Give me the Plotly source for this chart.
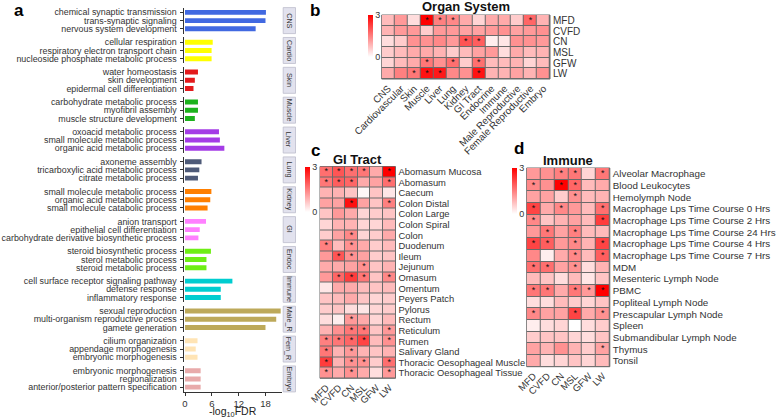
import plotly.graph_objects as go

W, H = 779, 418
def px(x): return x / W
def py(y): return 1 - y / H
def clamp(v): return max(0.0, min(1.0, v))

FONT = "Arial, Liberation Sans, sans-serif"

# ---------------- Panel a data ----------------
facets = ["CNS", "Cardio", "Skin", "Muscle", "Liver", "Lung", "Kidney", "GI",
          "Endoc", "Immune", "Male_R", "Fem_R", "Embryo"]
terms = [
    ["chemical synaptic transmission", "trans-synaptic signaling", "nervous system development"],
    ["cellular respiration", "respiratory electron transport chain", "nucleoside phosphate metabolic process"],
    ["water homeostasis", "skin development", "epidermal cell differentiation"],
    ["carbohydrate metabolic process", "myofibril assembly", "muscle structure development"],
    ["oxoacid metabolic process", "small molecule metabolic process", "organic acid metabolic process"],
    ["axoneme assembly", "tricarboxylic acid metabolic process", "citrate metabolic process"],
    ["small molecule metabolic process", "organic acid metabolic process", "small molecule catabolic process"],
    ["anion transport", "epithelial cell differentiation", "carbohydrate derivative biosynthetic process"],
    ["steroid biosynthetic process", "sterol metabolic process", "steroid metabolic process"],
    ["cell surface receptor signaling pathway", "defense response", "inflammatory response"],
    ["sexual reproduction", "multi-organism reproductive process", "gamete generation"],
    ["cilium organization", "appendage morphogenesis", "embryonic morphogenesis"],
    ["embryonic morphogenesis", "regionalization", "anterior/posterior pattern specification"],
]
neglog_fdr = [
    [18.1, 18.0, 15.8],
    [6.2, 5.95, 5.95],
    [2.9, 2.2, 1.9],
    [2.9, 2.9, 2.2],
    [7.6, 7.8, 8.8],
    [3.7, 3.2, 2.9],
    [5.9, 5.65, 5.05],
    [4.7, 3.3, 3.0],
    [5.8, 4.8, 4.8],
    [10.6, 8.0, 8.0],
    [21.4, 20.4, 18.0],
    [2.8, 2.4, 2.8],
    [3.5, 3.5, 3.5],
]
facet_colors = ["#4169E1", "#FFFF00", "#E31A1C", "#1CB21C", "#A43CE6", "#4E5A78",
                "#FF7F00", "#FF80FF", "#6EEE14", "#00CDD0", "#BDA95A", "#FFE4B5", "#E8AAAA"]
x_ticks_a = [0, 6, 12, 18]

# ---------------- Panel b data ----------------
traits = ["MFD", "CVFD", "CN", "MSL", "GFW", "LW"]
organs = ["CNS", "Cardiovascular", "Skin", "Muscle", "Liver", "Lung", "Kidney", "GI Tract",
          "Endocrine", "Immune", "Male Reproductive", "Female Reproductive", "Embryo"]
organ_z = [
    [0.8, 1.2, 0.4, 3.0, 1.5, 1.4, 1.0, 0.5, 1.0, 1.0, 0.6, 1.8, 0.9],
    [0.9, 1.2, 1.2, 0.6, 1.2, 1.2, 1.1, 1.1, 1.2, 1.3, 1.1, 1.2, 1.3],
    [0.4, 0.6, 1.3, 1.3, 1.4, 1.2, 2.0, 1.9, 0.2, 0.3, 1.3, 1.3, 1.2],
    [0.6, 0.8, 1.0, 1.0, 0.9, 0.6, 0.8, 1.1, 1.2, 0.4, 1.0, 0.8, 0.9],
    [0.5, 0.8, 1.0, 1.6, 1.3, 1.7, 0.6, 1.7, 0.8, 0.8, 0.9, 0.5, 0.8],
    [1.0, 1.5, 1.6, 2.8, 2.7, 1.4, 1.3, 2.8, 0.9, 0.9, 1.1, 0.9, 1.3],
]
organ_sig = [
    [0, 0, 0, 1, 1, 1, 0, 0, 0, 0, 0, 1, 0],
    [0, 0, 0, 0, 0, 0, 0, 0, 0, 0, 0, 0, 0],
    [0, 0, 0, 0, 0, 0, 1, 1, 0, 0, 0, 0, 0],
    [0, 0, 0, 0, 0, 0, 0, 0, 0, 0, 0, 0, 0],
    [0, 0, 0, 1, 0, 1, 0, 1, 0, 0, 0, 0, 0],
    [0, 0, 1, 1, 1, 0, 0, 1, 0, 0, 0, 0, 0],
]

# ---------------- Panel c data ----------------
gi_tissues = ["Abomasum Mucosa", "Abomasum", "Caecum", "Colon Distal", "Colon Large", "Colon Spiral",
              "Colon", "Duodenum", "Ileum", "Jejunum", "Omasum", "Omentum", "Peyers Patch", "Pylorus",
              "Rectum", "Reticulum", "Rumen", "Salivary Gland", "Thoracic Oesophageal Muscle",
              "Thoracic Oesophageal Tissue"]
gi_z = [
    [1.7, 2.0, 1.7, 1.6, 1.0, 3.0],
    [1.6, 1.9, 1.8, 1.0, 1.1, 1.7],
    [0.9, 0.9, 0.7, 0.1, 0.7, 0.3],
    [1.1, 1.1, 2.8, 1.1, 0.7, 1.5],
    [0.7, 1.2, 1.0, 0.5, 0.6, 0.7],
    [0.5, 0.9, 0.9, 0.5, 0.5, 0.8],
    [0.6, 1.1, 1.4, 0.5, 0.6, 1.0],
    [1.5, 0.8, 1.3, 1.0, 0.6, 0.8],
    [1.2, 2.0, 1.3, 1.1, 0.6, 0.7],
    [1.0, 1.0, 1.1, 1.3, 0.7, 0.9],
    [1.2, 1.8, 2.3, 1.6, 0.7, 1.4],
    [0.3, 1.0, 1.0, 0.8, 0.7, 0.8],
    [0.7, 0.8, 1.0, 0.7, 0.5, 0.6],
    [0.6, 0.7, 0.4, 0.3, 0.5, 0.6],
    [0.4, 0.2, 1.2, 1.0, 0.5, 0.8],
    [0.9, 1.3, 1.6, 1.6, 0.7, 1.2],
    [1.5, 1.6, 1.8, 2.2, 0.8, 1.3],
    [1.6, 0.9, 1.2, 0.9, 0.7, 0.9],
    [2.3, 0.9, 1.3, 1.3, 0.6, 1.7],
    [1.3, 1.0, 1.3, 1.0, 0.4, 1.2],
]
gi_sig = [
    [1, 1, 1, 1, 0, 1],
    [1, 1, 1, 0, 0, 1],
    [0, 0, 0, 0, 0, 0],
    [0, 0, 1, 0, 0, 1],
    [0, 0, 0, 0, 0, 0],
    [0, 0, 0, 0, 0, 0],
    [0, 0, 1, 0, 0, 0],
    [1, 0, 1, 0, 0, 0],
    [0, 1, 1, 0, 0, 0],
    [0, 0, 0, 1, 0, 0],
    [0, 1, 1, 1, 0, 1],
    [0, 0, 0, 0, 0, 0],
    [0, 0, 0, 0, 0, 0],
    [0, 0, 0, 0, 0, 0],
    [0, 0, 1, 0, 0, 0],
    [0, 0, 1, 1, 0, 1],
    [1, 1, 1, 1, 0, 1],
    [1, 0, 1, 0, 0, 0],
    [1, 0, 1, 1, 0, 1],
    [1, 0, 1, 0, 0, 1],
]

# ---------------- Panel d data ----------------
imm_tissues = ["Alveolar Macrophage", "Blood Leukocytes", "Hemolymph Node",
               "Macrophage Lps Time Course 0 Hrs", "Macrophage Lps Time Course 2 Hrs",
               "Macrophage Lps Time Course 24 Hrs", "Macrophage Lps Time Course 4 Hrs",
               "Macrophage Lps Time Course 7 Hrs", "MDM", "Mesenteric Lymph Node", "PBMC",
               "Popliteal Lymph Node", "Prescapular Lymph Node", "Spleen",
               "Submandibular Lymph Node", "Thymus", "Tonsil"]
imm_z = [
    [1.2, 1.3, 1.5, 1.6, 0.5, 1.6],
    [1.4, 1.3, 3.0, 1.8, 0.8, 1.0],
    [1.1, 1.1, 0.6, 1.3, 0.8, 0.9],
    [2.2, 1.0, 1.4, 1.2, 0.8, 1.7],
    [1.4, 0.7, 0.9, 1.1, 0.8, 2.3],
    [1.2, 1.6, 1.1, 1.5, 0.8, 0.8],
    [2.2, 1.9, 1.2, 1.4, 0.9, 2.2],
    [1.4, 0.2, 1.0, 1.4, 0.8, 1.9],
    [1.7, 1.7, 1.1, 1.3, 0.4, 0.9],
    [0.8, 0.7, 0.4, 0.8, 0.3, 0.7],
    [1.6, 1.6, 1.0, 1.6, 1.2, 3.0],
    [0.4, 0.4, 0.8, 0.6, 0.5, 0.7],
    [1.4, 1.1, 1.1, 2.2, 1.0, 1.3],
    [0.2, 0.4, 0.5, 0.0, 0.4, 0.6],
    [0.6, 0.7, 0.7, 0.5, 0.4, 0.7],
    [1.1, 0.9, 1.3, 0.9, 0.6, 1.1],
    [1.0, 0.4, 0.5, 0.7, 0.5, 0.8],
]
imm_sig = [
    [0, 0, 1, 1, 0, 1],
    [1, 0, 1, 1, 0, 0],
    [0, 0, 0, 1, 0, 0],
    [1, 0, 1, 0, 0, 1],
    [1, 0, 0, 0, 0, 1],
    [0, 1, 0, 1, 0, 0],
    [1, 1, 0, 1, 0, 1],
    [0, 0, 0, 1, 0, 1],
    [1, 1, 0, 1, 0, 0],
    [0, 0, 0, 0, 0, 0],
    [1, 1, 0, 1, 1, 1],
    [0, 0, 0, 0, 0, 0],
    [1, 0, 0, 1, 0, 1],
    [0, 0, 0, 0, 0, 0],
    [0, 0, 0, 0, 0, 0],
    [0, 0, 0, 0, 0, 1],
    [0, 0, 0, 0, 0, 0],
]

fig = go.Figure()
layout = dict(
    template="none",
    width=W, height=H, autosize=False,
    margin=dict(l=0, r=0, t=0, b=0, pad=0, autoexpand=False),
    paper_bgcolor="white", plot_bgcolor="white",
    showlegend=False, bargap=0.4,
    font=dict(family=FONT, color="#333333"),
)
shapes = []
annotations = []

# ---------------- Panel a ----------------
a_x0, a_x1 = 183.5, 282.3
pitch, first_c, half = 29.86, 20.6, 13.0
n = len(facets)
for k in range(n):
    yname = "y" if k == 0 else f"y{k+1}"
    ykey = "yaxis" if k == 0 else f"yaxis{k+1}"
    c = first_c + pitch * k
    top, bot = c - half, c + half
    fig.add_trace(go.Bar(
        x=neglog_fdr[k], y=terms[k], orientation="h",
        marker=dict(color=facet_colors[k], line=dict(width=0)),
        xaxis="x", yaxis=yname, hoverinfo="x+y"))
    layout[ykey] = dict(
        domain=[clamp(py(bot)), clamp(py(top))], anchor="x", type="category",
        tickmode="array", tickvals=terms[k], ticktext=terms[k],
        range=[2.58, -0.58], showline=True, linecolor="#333333", linewidth=1,
        ticks="outside", ticklen=3, tickcolor="#333333", tickwidth=1,
        tickfont=dict(size=8.9, color="#333333"), showgrid=False, zeroline=False,
        ticklabelstandoff=1, automargin=False)
    shapes.append(dict(type="rect", xref="paper", yref="paper",
                       x0=px(283.2), x1=px(295.5), y0=clamp(py(bot)), y1=clamp(py(top)),
                       fillcolor="#E2E2EE", line=dict(color="#BDBDCC", width=0.8)))
    annotations.append(dict(x=px(289.4), y=py(c), xref="paper", yref="paper",
                            xanchor="center", yanchor="middle",
                            text=facets[k], textangle=90, showarrow=False,
                            font=dict(size=7.2, color="#333333")))

layout["xaxis"] = dict(
    domain=[px(a_x0), px(a_x1)], anchor="y13", range=[-0.335, 21.76],
    tickmode="array", tickvals=x_ticks_a, ticks="outside", ticklen=3, tickcolor="#333333",
    showline=True, linecolor="#333333", linewidth=1, showgrid=False, zeroline=False,
    tickfont=dict(size=9.5, color="#333333"), automargin=False)
annotations.append(dict(x=px(233), y=py(411.5), xref="paper", yref="paper",
                        xanchor="center", yanchor="middle", showarrow=False,
                        text="-log<sub>10</sub>FDR", font=dict(size=10.5, color="#222222")))

# ---------------- Heatmap helper ----------------
def add_heat(idx_x, idx_y, z, sig, xcats, ycats, box, cbox, title, title_y, xfont, yfont):
    xa, ya = f"x{idx_x}", f"y{idx_y}"
    x0, x1, y0, y1 = box
    fig.add_trace(go.Heatmap(
        z=z, x=xcats, y=ycats, xaxis=xa, yaxis=ya, zmin=0, zmax=3,
        colorscale=[[0, "#FFFFFF"], [1, "#FF0000"]], xgap=1, ygap=1,
        colorbar=dict(x=px(cbox[0]), xanchor="left", y=py(cbox[1]), yanchor="top",
                      len=(cbox[2] - cbox[1]) / H, lenmode="fraction",
                      thickness=cbox[3], thicknessmode="pixels", xpad=0, ypad=0,
                      outlinewidth=0, tickmode="array", tickvals=[0, 3], ticks="",
                      tickfont=dict(size=9, color="#333333"))))
    sx, sy = [], []
    for i, row in enumerate(sig):
        for j, s in enumerate(row):
            if s:
                sx.append(xcats[j]); sy.append(ycats[i])
    fig.add_trace(go.Scatter(x=sx, y=sy, mode="text", text=["*"] * len(sx),
                             textfont=dict(size=9, color="#111111"),
                             xaxis=xa, yaxis=ya, hoverinfo="skip", cliponaxis=False))
    layout[f"xaxis{idx_x}"] = dict(
        domain=[px(x0), px(x1)], anchor=ya, type="category",
        categoryorder="array", categoryarray=xcats,
        tickmode="array", tickvals=xcats, ticktext=xcats,
        range=[-0.5, len(xcats) - 0.5], automargin=False,
        showgrid=False, zeroline=False, showline=False, ticks="",
        tickangle=-45, tickfont=dict(size=xfont, color="#333333"), ticklabelstandoff=1)
    layout[f"yaxis{idx_y}"] = dict(
        domain=[py(y1), py(y0)], anchor=xa, type="category", side="right",
        categoryorder="array", categoryarray=ycats,
        tickmode="array", tickvals=ycats, ticktext=ycats,
        range=[len(ycats) - 0.5, -0.5], automargin=False,
        showgrid=False, zeroline=False, showline=False, ticks="",
        tickfont=dict(size=yfont, color="#333333"), ticklabelstandoff=2)
    shapes.append(dict(type="rect", xref=f"{xa} domain", yref=f"{ya} domain",
                       x0=0, x1=1, y0=0, y1=1, fillcolor="#6A6A6A",
                       line=dict(color="#6A6A6A", width=1), layer="below"))
    annotations.append(dict(x=px((x0 + x1) / 2), y=py(title_y), xref="paper", yref="paper",
                            xanchor="center", yanchor="middle",
                            text=f"<b>{title}</b>", showarrow=False,
                            font=dict(size=13, color="#111111")))

add_heat(2, 14, organ_z, organ_sig, organs, traits,
         (381.7, 550.0, 15.0, 79.0), (367.5, 15.0, 57.0, 5), "Organ System", 6.5, 9.8, 10)
add_heat(3, 15, gi_z, gi_sig, traits, gi_tissues,
         (320.0, 395.5, 166.5, 378.3), (305.0, 166.5, 211.0, 5), "GI Tract", 159.5, 9.6, 9.4)
add_heat(4, 16, imm_z, imm_sig, traits, imm_tissues,
         (526.7, 609.8, 168.0, 366.7), (511.7, 168.0, 214.0, 5), "Immune", 160.0, 9.6, 9.8)

# Panel letters
for lab, x, y in [("a", 18.5, 10), ("b", 315, 11), ("c", 315, 150), ("d", 519, 148)]:
    annotations.append(dict(x=px(x), y=py(y), xref="paper", yref="paper",
                            xanchor="center", yanchor="middle",
                            text=f"<b>{lab}</b>", showarrow=False,
                            font=dict(size=17, color="#000000")))

layout["shapes"] = shapes
layout["annotations"] = annotations
fig.update_layout(**layout)
# Remove the browser's default 8px body margin so the figure fills the window exactly.
fig.write_html("out.html",
               config={"displayModeBar": False},
               post_script="document.body.style.margin='0';document.body.style.padding='0';")
